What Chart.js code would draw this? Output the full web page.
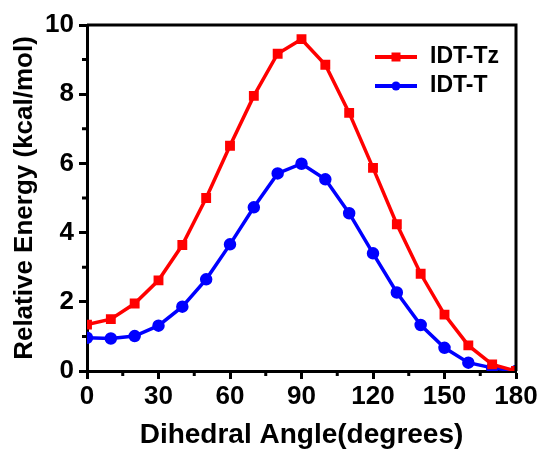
<!DOCTYPE html>
<html>
<head>
<meta charset="utf-8">
<script src="https://cdn.jsdelivr.net/npm/chart.js@4"></script>
<style>
    html, body { margin: 0; padding: 0; background: #fff; }
    #wrap { width: 544px; height: 452px; }
</style>
</head>
<body>
<div id="wrap"><canvas id="c"></canvas></div>
<script>
// dihedral angles (degrees)
var angles = [0, 10, 20, 30, 40, 50, 60, 70, 80, 90, 100, 110, 120, 130, 140, 150, 160, 170, 180];
// relative energies (kcal/mol)
var idtTz = [1.34, 1.50, 1.95, 2.62, 3.64, 5.0, 6.51, 7.95, 9.17, 9.59, 8.85, 7.46, 5.87, 4.24, 2.81, 1.63, 0.74, 0.19, 0.0];
var idtT = [0.96, 0.94, 1.01, 1.31, 1.86, 2.65, 3.66, 4.73, 5.71, 5.99, 5.54, 4.56, 3.40, 2.27, 1.33, 0.67, 0.24, 0.09, 0.0];
var seriesNames = ['IDT-Tz', 'IDT-T'];
var xMinor = [15, 45, 75, 105, 135, 165];
var yMinor = [1, 3, 5, 7, 9];

var font = 'Liberation Sans, Arial, sans-serif';

function toPts(xs, ys) {
    var out = [];
    for (var i = 0; i < xs.length; i++) {
        out.push({ x: xs[i], y: ys[i] });
    }
    return out;
}

// frame around plot area + short minor ticks
var framePlugin = {
    id: 'frame',
    afterDraw: function (chart) {
        var a = chart.chartArea, ctx = chart.ctx;
        ctx.save();
        ctx.strokeStyle = '#000';
        ctx.lineWidth = 3;
        ctx.beginPath();
        ctx.moveTo(a.left, a.top);
        ctx.lineTo(a.right, a.top);
        ctx.lineTo(a.right, a.bottom);
        ctx.stroke();
        ctx.lineWidth = 3;
        ctx.beginPath();
        xMinor.forEach(function (v) {
            var px = chart.scales.x.getPixelForValue(v);
            ctx.moveTo(px, a.bottom);
            ctx.lineTo(px, a.bottom + 5);
        });
        yMinor.forEach(function (v) {
            var py = chart.scales.y.getPixelForValue(v);
            ctx.moveTo(a.left, py);
            ctx.lineTo(a.left - 5, py);
        });
        ctx.stroke();
        ctx.restore();
    }
};

// legend inside the plot, top right
var legendPlugin = {
    id: 'innerLegend',
    afterDatasetsDraw: function (chart) {
        var a = chart.chartArea, ctx = chart.ctx;
        ctx.save();
        chart.data.datasets.forEach(function (ds, i) {
            var y = a.top + 32 + i * 29;
            var x0 = a.left + 288;
            ctx.strokeStyle = ds.borderColor;
            ctx.lineWidth = 4;
            ctx.beginPath();
            ctx.moveTo(x0, y);
            ctx.lineTo(x0 + 42, y);
            ctx.stroke();
            ctx.fillStyle = ds.borderColor;
            if (ds.pointStyle === 'rect') {
                ctx.fillRect(x0 + 21 - 4.5, y - 4.5, 9, 9);
            } else {
                ctx.beginPath();
                ctx.arc(x0 + 21, y, 4.5, 0, Math.PI * 2);
                ctx.fill();
            }
            ctx.fillStyle = '#000';
            ctx.font = 'bold 23px ' + font;
            ctx.textBaseline = 'middle';
            ctx.fillText(ds.label, x0 + 55, y);
        });
        ctx.restore();
    }
};

var ctx = document.getElementById('c');
var myChart = new Chart(ctx, {
    type: 'line',
    data: {
        datasets: [
            {
                label: seriesNames[0],
                data: toPts(angles, idtTz),
                borderColor: '#ff0000',
                backgroundColor: '#ff0000',
                borderWidth: 3.5,
                pointStyle: 'rect',
                pointRadius: 4.5,
                tension: 0
            },
            {
                label: seriesNames[1],
                data: toPts(angles, idtT),
                borderColor: '#0000ff',
                backgroundColor: '#0000ff',
                borderWidth: 3.5,
                pointStyle: 'circle',
                pointRadius: 4.5,
                tension: 0
            }
        ]
    },
    options: {
        responsive: true,
        maintainAspectRatio: false,
        animation: false,
        events: [],
        layout: { padding: { top: 25, right: 28, left: 0, bottom: 0 } },
        plugins: {
            legend: { display: false },
            tooltip: { enabled: false }
        },
        scales: {
            x: {
                type: 'linear',
                min: 0,
                max: 180,
                border: { color: '#000', width: 3 },
                grid: { drawOnChartArea: false, drawTicks: true, tickLength: 8, tickWidth: 3, tickColor: '#000' },
                ticks: {
                    stepSize: 30,
                    color: '#000',
                    padding: 2,
                    maxRotation: 0,
                    autoSkip: false,
                    font: { family: font, size: 26, weight: 'bold' }
                },
                title: {
                    display: true,
                    text: 'Dihedral Angle(degrees)',
                    color: '#000',
                    padding: { top: 0, bottom: 0 },
                    font: { family: font, size: 28, weight: 'bold' }
                },
                afterFit: function (s) { s.height = 81; }
            },
            y: {
                min: 0,
                max: 10,
                border: { color: '#000', width: 3 },
                grid: { drawOnChartArea: false, drawTicks: true, tickLength: 8, tickWidth: 3, tickColor: '#000' },
                ticks: {
                    stepSize: 2,
                    color: '#000',
                    padding: 5,
                    autoSkip: false,
                    font: { family: font, size: 26, weight: 'bold' }
                },
                title: {
                    display: true,
                    text: 'Relative Energy (kcal/mol)',
                    color: '#000',
                    padding: { top: 9, bottom: 0 },
                    font: { family: font, size: 26, weight: 'bold' }
                },
                afterFit: function (s) { s.width = 87; }
            }
        }
    },
    plugins: [framePlugin, legendPlugin]
});
</script>
</body>
</html>
